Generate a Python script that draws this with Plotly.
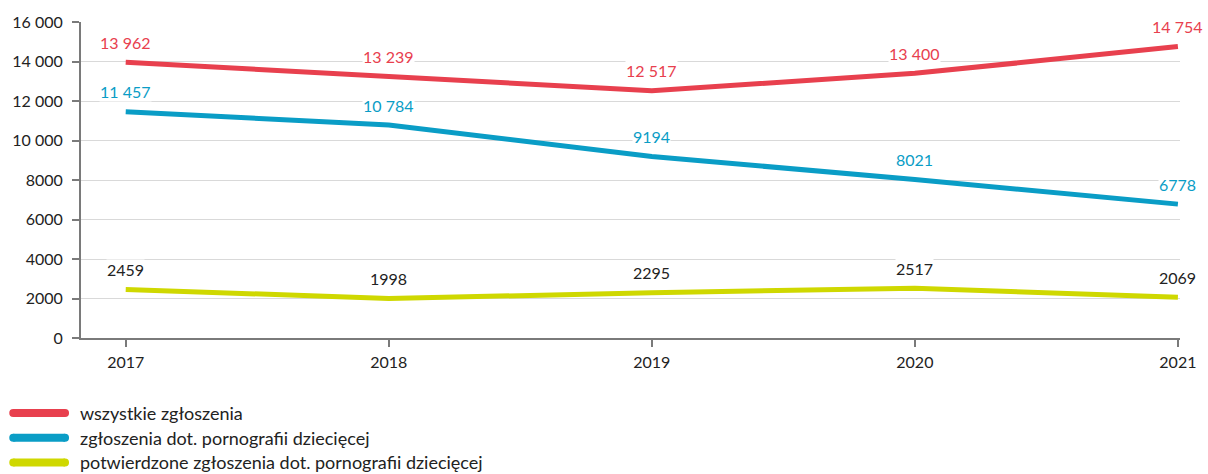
import plotly.graph_objects as go

years = [2017, 2018, 2019, 2020, 2021]
all_reports = [13962, 13239, 12517, 13400, 14754]
cp_reports = [11457, 10784, 9194, 8021, 6778]
cp_confirmed = [2459, 1998, 2295, 2517, 2069]

series_names = [
    "wszystkie zgłoszenia",
    "zgłoszenia dot. pornografii dziecięcej",
    "potwierdzone zgłoszenia dot. pornografii dziecięcej",
]
y_ticks = [0, 2000, 4000, 6000, 8000, 10000, 12000, 14000, 16000]

RED = "#e8404e"
BLUE = "#0a9dc6"
LIME = "#cfd800"
label_colors = [RED, BLUE, "#222222"]
line_colors = [RED, BLUE, LIME]

# plot area size in px (used to place the hand-drawn legend)
TOP, BOTTOM = 18, 136
PW, PH = 1103, 474 - TOP - BOTTOM


def pl_num(v):
    # Polish style: space as thousands separator only from 10 000 up
    if v >= 10000:
        return f"{v:,}".replace(",", " ")
    return str(v)


fig = go.Figure()

for name, vals, col, lcol in zip(
    series_names, [all_reports, cp_reports, cp_confirmed], line_colors, label_colors
):
    fig.add_trace(
        go.Scatter(
            x=years,
            y=vals,
            mode="lines",
            name=name,
            line={"color": col, "width": 5},
            showlegend=False,
            hoverinfo="skip",
        )
    )
    for x, y in zip(years, vals):
        fig.add_annotation(
            x=x,
            y=y,
            text=pl_num(y),
            showarrow=False,
            yshift=20,
            bgcolor="white",
            borderpad=0,
            font={"color": lcol, "size": 16},
        )

# legend drawn by hand so the swatches can be long, thick and rounded
for i, (name, col) in enumerate(zip(series_names, line_colors)):
    ypx = 414 + i * 25
    yp = (474 - BOTTOM - ypx) / PH
    x0, x1 = -68 / PW, -16 / PW
    fig.add_shape(
        type="line",
        xref="paper",
        yref="paper",
        x0=x0,
        x1=x1,
        y0=yp,
        y1=yp,
        line={"color": col, "width": 8},
    )
    for xc in (x0, x1):
        fig.add_shape(
            type="circle",
            xref="paper",
            yref="paper",
            x0=xc - 4 / PW,
            x1=xc + 4 / PW,
            y0=yp - 4 / PH,
            y1=yp + 4 / PH,
            fillcolor=col,
            line={"width": 0},
        )
    fig.add_annotation(
        xref="paper",
        yref="paper",
        x=-3 / PW,
        y=yp,
        text=name,
        showarrow=False,
        xanchor="left",
        yanchor="middle",
        font={"color": "#222222", "size": 18},
    )

axis_style = {
    "showline": True,
    "linecolor": "#7a7a7a",
    "linewidth": 2,
    "ticks": "outside",
    "ticklen": 7,
    "tickwidth": 2,
    "tickcolor": "#7a7a7a",
    "zeroline": False,
}

fig.update_layout(
    width=1208,
    height=474,
    margin={"l": 77, "r": 28, "t": TOP, "b": BOTTOM},
    plot_bgcolor="white",
    paper_bgcolor="white",
    font={"family": "Lato, 'Open Sans', sans-serif", "size": 16, "color": "#222222"},
    xaxis={
        "range": [2016.83, 2021.008],
        "tickvals": years,
        "ticktext": [str(y) for y in years],
        "showgrid": False,
        "ticklabelstandoff": 2,
        **axis_style,
    },
    yaxis={
        "range": [0, 16000],
        "tickvals": y_ticks,
        "ticktext": [pl_num(v) for v in y_ticks],
        "showgrid": True,
        "gridcolor": "#d9d9d9",
        "gridwidth": 1,
        "ticklabelstandoff": 6,
        **axis_style,
    },
)

fig.write_html(
    "out.html",
    config={"displayModeBar": False},
    post_script="document.body.style.margin='0';document.body.style.overflow='hidden';",
)
